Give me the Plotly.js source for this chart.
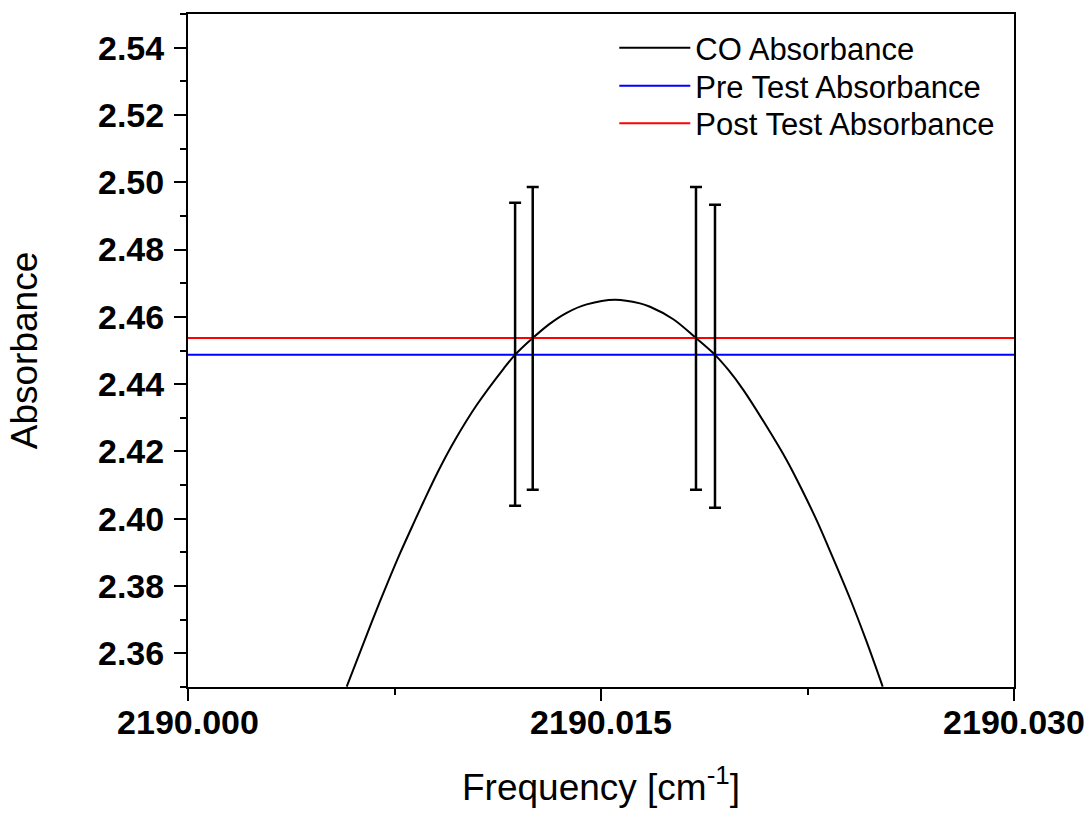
<!DOCTYPE html>
<html>
<head>
<meta charset="utf-8">
<script src="https://cdn.plot.ly/plotly-3.0.1.min.js"></script>
<style>
  html, body { margin: 0; padding: 0; background: #ffffff; }
  #chart { width: 1091px; height: 817px; }
</style>
</head>
<body>
<div id="chart"></div>
<script>
// CO absorption line profile
const coFreq = [
  2190.005764, 2190.006672, 2190.007155, 2190.007700, 2190.008125,
  2190.008546, 2190.009091, 2190.009697, 2190.010486, 2190.011452,
  2190.011877, 2190.012519, 2190.013148, 2190.013754, 2190.014481,
  2190.015509, 2190.016417, 2190.016780, 2190.017626, 2190.018450,
  2190.019140, 2190.019649, 2190.020168, 2190.021018, 2190.021745,
  2190.022348, 2190.022834, 2190.023256, 2190.024044, 2190.024650,
  2190.025231
];
const coAbs = [
  2.3501, 2.3693, 2.3791, 2.3897, 2.3974,
  2.4049, 2.4142, 2.4234, 2.4338, 2.4445,
  2.4487, 2.4537, 2.4580, 2.4612, 2.4637,
  2.4651, 2.4640, 2.4630, 2.4593, 2.4537,
  2.4487, 2.4440, 2.4383, 2.4274, 2.4174,
  2.4078, 2.3995, 2.3916, 2.3763, 2.3634,
  2.3501
];

// Reference absorbance levels measured before and after the test
const levelFreq = [2190.000, 2190.030];
const preAbs = [2.4487, 2.4487];
const postAbs = [2.4537, 2.4537];

// Crossing points with their uncertainty
const barFreq = [2190.01188, 2190.01252, 2190.01845, 2190.01914];
const barAbs = [2.4489, 2.4536, 2.4536, 2.4483];
const barErr = [0.045, 0.045, 0.045, 0.045];

const xTicks = [2190.000, 2190.015, 2190.030];
const xTickText = ['2190.000', '2190.015', '2190.030'];

const sans = 'Liberation Sans, Arial, sans-serif';
const tickFont = { family: sans, size: 34, color: '#000', weight: 'bold' };
const titleFont = { family: sans, size: 37, color: '#000' };
const legendFont = { family: sans, size: 31, color: '#000' };

const traces = [
  {
    x: coFreq, y: coAbs, type: 'scatter', mode: 'lines',
    name: 'CO Absorbance', legend: 'legend',
    line: { color: '#000000', width: 2, shape: 'spline', smoothing: 1 }
  },
  {
    x: levelFreq, y: preAbs, type: 'scatter', mode: 'lines',
    name: 'Pre Test Absorbance', legend: 'legend2',
    line: { color: '#0000ff', width: 2 }
  },
  {
    x: levelFreq, y: postAbs, type: 'scatter', mode: 'lines',
    name: 'Post Test Absorbance', legend: 'legend3',
    line: { color: '#ff0000', width: 2 }
  },
  {
    x: barFreq, y: barAbs, type: 'scatter', mode: 'markers',
    showlegend: false, hoverinfo: 'skip',
    marker: { size: 1, color: 'rgba(0,0,0,0)' },
    error_y: { type: 'data', array: barErr, visible: true, color: '#000000', thickness: 2.5, width: 6 }
  }
];

function legendAt(y) {
  return {
    x: 0.5161, y: y, xanchor: 'left', yanchor: 'top',
    bgcolor: 'rgba(0,0,0,0)', borderwidth: 0,
    font: legendFont, itemwidth: 71
  };
}

const layout = {
  width: 1091, height: 817,
  margin: { l: 188, r: 77, t: 14, b: 130 },
  paper_bgcolor: '#ffffff', plot_bgcolor: '#ffffff',
  showlegend: true,
  legend: legendAt(0.9896),
  legend2: legendAt(0.9331),
  legend3: legendAt(0.8771),
  xaxis: {
    range: [2190.000, 2190.030],
    tickmode: 'array', tickvals: xTicks, ticktext: xTickText,
    ticks: 'outside', ticklen: 12, tickwidth: 2, tickcolor: '#000',
    minor: { tickmode: 'linear', tick0: 2190.0, dtick: 0.0075, ticks: 'outside', ticklen: 6, tickwidth: 2, tickcolor: '#000' },
    showline: true, linewidth: 2, linecolor: '#000', mirror: true,
    showgrid: false, zeroline: false,
    tickfont: tickFont,
    ticklabelstandoff: -8,
    automargin: false,
    title: { text: 'Frequency [cm<sup>-1</sup>]', font: titleFont, standoff: 34 }
  },
  yaxis: {
    range: [2.35, 2.55],
    tick0: 2.36, dtick: 0.02, tickformat: '.2f',
    ticks: 'outside', ticklen: 12, tickwidth: 2, tickcolor: '#000',
    minor: { dtick: 0.01, ticks: 'outside', ticklen: 6, tickwidth: 2, tickcolor: '#000' },
    showline: true, linewidth: 2, linecolor: '#000', mirror: true,
    showgrid: false, zeroline: false,
    tickfont: tickFont,
    ticklabelstandoff: 3,
    automargin: false,
    title: { text: 'Absorbance', font: titleFont, standoff: 49 }
  }
};

Plotly.newPlot('chart', traces, layout, { displayModeBar: false, staticPlot: true });
</script>
</body>
</html>
